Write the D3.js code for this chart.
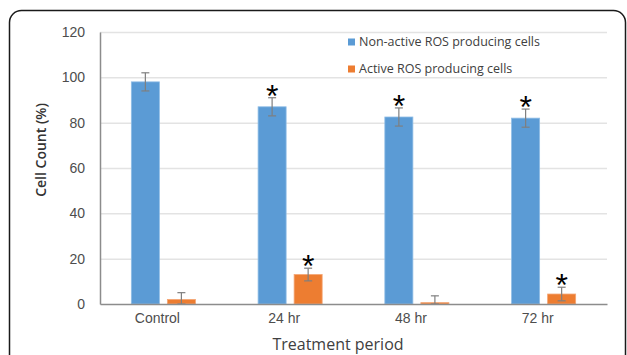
<!DOCTYPE html>
<html>
<head>
<meta charset="utf-8">
<script src="https://cdn.jsdelivr.net/npm/d3@7"></script>
<style>
  body { margin: 0; background: #fff; }
  svg { display: block; font-family: "Open Sans", "Liberation Sans", sans-serif; }
</style>
</head>
<body>
<div id="chart"></div>
<script>
// chart data
const categories = ["Control", "24 hr", "48 hr", "72 hr"];
const seriesNames = ["Non-active ROS producing cells", "Active ROS producing cells"];
const nonActive = [98, 87, 82.5, 82];
const nonActiveErr = [4, 4, 4, 4];
const active = [2, 13, 0.6, 4.4];
const activeErr = [3, 2.8, 3, 3];
const nonActiveStar = [false, true, true, true];
const activeStar = [false, true, false, true];
const yTicks = [0, 20, 40, 60, 80, 100, 120];

const W = 627, H = 355;
const margin = { left: 100, right: 20, top: 32, bottom: 51 };
const colors = ["#5b9bd5", "#ed7d31"];

const svg = d3.select("#chart").append("svg")
    .attr("width", W)
    .attr("height", H);

// outer frame with rounded corners
svg.append("rect")
    .attr("x", 9.5).attr("y", 10.5)
    .attr("width", 616).attr("height", 380)
    .attr("rx", 12)
    .attr("fill", "none")
    .attr("stroke", "#1a1a1a")
    .attr("stroke-width", 1.5);

const x = d3.scaleBand()
    .domain(categories)
    .range([margin.left, W - margin.right]);

const y = d3.scaleLinear()
    .domain([0, 120])
    .range([H - margin.bottom, margin.top]);

// gridlines
svg.append("g")
    .selectAll("line")
    .data(yTicks.slice(1))
    .enter()
    .append("line")
    .attr("x1", margin.left).attr("x2", W - margin.right)
    .attr("y1", d => y(d) + 0.5).attr("y2", d => y(d) + 0.5)
    .attr("stroke", "#e3e3e3")
    .attr("stroke-width", 1.5);

// y axis
const yAxis = svg.append("g")
    .attr("transform", `translate(${margin.left},0)`)
    .call(d3.axisLeft(y).tickValues(yTicks).tickSize(0).tickPadding(15));
yAxis.select(".domain").attr("stroke", "#8c8c8c").attr("stroke-width", 1.5);
yAxis.selectAll("text")
    .attr("fill", "#4d4d4d")
    .style("font-size", "14px");

// bars
const sub = d3.scaleBand()
    .domain([0, 1])
    .range([0, x.bandwidth()])
    .paddingInner(0.222)
    .paddingOuter(0.87);

const series = [
    { vals: nonActive, err: nonActiveErr, star: nonActiveStar },
    { vals: active, err: activeErr, star: activeStar }
];

series.forEach((s, si) => {
    const g = svg.append("g");
    const data = categories.map((c, i) => ({ c, v: s.vals[i], e: s.err[i], star: s.star[i] }));

    g.selectAll("rect")
        .data(data)
        .enter()
        .append("rect")
        .attr("x", d => x(d.c) + sub(si))
        .attr("y", d => y(d.v))
        .attr("width", sub.bandwidth())
        .attr("height", d => y(0) - y(d.v))
        .attr("fill", colors[si])
        .attr("stroke", si === 0 ? "#8fbde6" : "#f4a574")
        .attr("stroke-width", 0.8);

    // error bars
    const cx = d => x(d.c) + sub(si) + sub.bandwidth() / 2;
    const eb = g.selectAll("g.err")
        .data(data)
        .enter()
        .append("g")
        .attr("class", "err")
        .attr("stroke", "#7f7f7f")
        .attr("stroke-width", 1.2);
    eb.append("line")
        .attr("x1", cx).attr("x2", cx)
        .attr("y1", d => y(d.v + d.e)).attr("y2", d => y(Math.max(d.v - d.e, 0)));
    eb.append("line")
        .attr("x1", d => cx(d) - 4).attr("x2", d => cx(d) + 4)
        .attr("y1", d => y(d.v + d.e)).attr("y2", d => y(d.v + d.e));
    eb.append("line")
        .attr("x1", d => cx(d) - 4).attr("x2", d => cx(d) + 4)
        .attr("y1", d => y(Math.max(d.v - d.e, 0))).attr("y2", d => y(Math.max(d.v - d.e, 0)));

    // significance asterisks
    g.selectAll("text.star")
        .data(data.filter(d => d.star))
        .enter()
        .append("text")
        .attr("class", "star")
        .attr("x", cx)
        .attr("y", d => y(d.v + d.e) + 9)
        .attr("text-anchor", "middle")
        .attr("fill", "#000")
        .style("font-family", "'Liberation Sans', Arial, sans-serif")
        .style("font-size", "32px")
        .text("*");
});

// x axis
const xAxis = svg.append("g")
    .attr("transform", `translate(0,${y(0)})`)
    .call(d3.axisBottom(x).tickSize(0).tickPadding(9));
xAxis.select(".domain").attr("stroke", "#8c8c8c").attr("stroke-width", 1.5);
xAxis.selectAll("text")
    .attr("fill", "#4d4d4d")
    .attr("dx", -6)
    .style("font-size", "14px");

// axis titles
svg.append("text")
    .attr("transform", `translate(46,150) rotate(-90)`)
    .attr("text-anchor", "middle")
    .attr("fill", "#333")
    .style("font-size", "14px")
    .style("font-weight", "600")
    .text("Cell Count (%)");

svg.append("text")
    .attr("x", 338)
    .attr("y", 350)
    .attr("text-anchor", "middle")
    .attr("fill", "#404040")
    .style("font-size", "16px")
    .text("Treatment period");

// legend
const legend = svg.append("g")
    .selectAll("g")
    .data(seriesNames)
    .enter()
    .append("g")
    .attr("transform", (d, i) => `translate(348,${42 + i * 27})`);
legend.append("rect")
    .attr("x", 0).attr("y", -3.5)
    .attr("width", 7).attr("height", 7)
    .attr("fill", (d, i) => colors[i]);
legend.append("text")
    .attr("x", 11)
    .attr("dy", "0.35em")
    .attr("fill", "#404040")
    .style("font-size", "12.5px")
    .text(d => d);
</script>
</body>
</html>
